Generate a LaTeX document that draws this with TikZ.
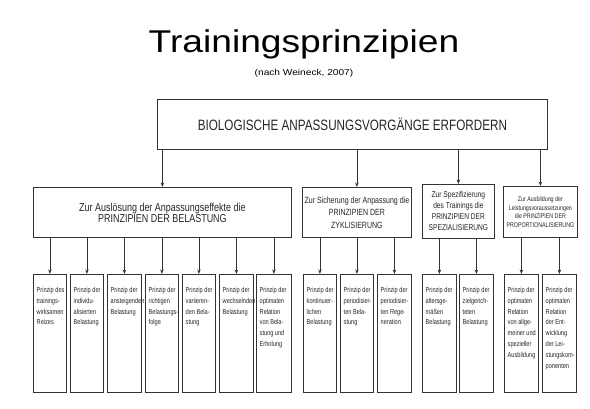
\documentclass[tikz,border=0pt]{standalone}
\usepackage{fontspec}
\setmainfont{Liberation Sans}
\newfontfamily\titlefont[FakeStretch=1.18]{Liberation Sans}
\newfontfamily\condfont[FakeStretch=0.78]{Liberation Sans}
\usetikzlibrary{arrows.meta}
\tikzset{
  frame/.style={draw=black!80, line width=0.8pt, inner sep=0pt, anchor=north west, text=black!85, align=center},
  leafbox/.style={frame, minimum height=118pt},
  leaftext/.style={anchor=north west, inner sep=0pt, align=left, text=black!85, font=\condfont\fontsize{7.2}{10.8}\selectfont},
  arr/.style={draw=black!80, line width=0.8pt, -{Stealth[length=4.5pt,width=3.5pt]}},
}
\newcommand\leafnode[4]{% name, left, width, text
  \node[leafbox, minimum width=#3pt] (#1) at (#2,274) {};
  \node[leaftext] (#1t) at ([xshift=3.5pt,yshift=-13pt]#1.north west) {#4};
}
\begin{document}
\begin{tikzpicture}[x=1pt,y=-1pt]
\useasboundingbox[fill=white] (0,0) rectangle (590,408);

\node[anchor=base, inner sep=0pt, font=\titlefont\fontsize{31.5}{36}\selectfont] (title) at (304,52.5) {Trainingsprinzipien};
\node[anchor=base, inner sep=0pt, font=\titlefont\fontsize{8.6}{10}\selectfont] (sub) at (304,75) {(nach Weineck, 2007)};

\node[frame, minimum width=390pt, minimum height=50pt, font=\condfont\fontsize{15}{18}\selectfont] (top) at (157,99) {BIOLOGISCHE ANPASSUNGSVORGÄNGE ERFORDERN};

\node[frame, minimum width=258pt, minimum height=50pt, font=\condfont\fontsize{11.5}{11}\selectfont] (c1) at (33,187) {Zur Auslösung der Anpassungseffekte die\\PRINZIPIEN DER BELASTUNG};
\node[frame, minimum width=109pt, minimum height=50pt, font=\condfont\fontsize{9}{12.5}\selectfont] (c2) at (302,187) {Zur Sicherung der Anpassung die\\PRINZIPIEN DER\\ZYKLISIERUNG};
\node[frame, minimum width=72pt, minimum height=54pt, font=\condfont\fontsize{8.5}{11}\selectfont] (c3) at (422,184) {Zur Spezifizierung\\des Trainings die\\PRINZIPIEN DER\\SPEZIALISIERUNG};
\node[frame, minimum width=74pt, minimum height=51pt, font=\condfont\fontsize{6.8}{8.6}\selectfont] (c4) at (503,186) {Zur Ausbildung der\\Leistungsvoraussetzungen\\die PRINZIPIEN DER\\PROPORTIONALISIERUNG};

\foreach \c in {c1,c2,c3,c4} \draw[arr] (\c.north |- top.south) -- (\c.north);

\leafnode{l1}{33}{33}{Prinzip des\\trainings-\\wirksamen\\Reizes}
\leafnode{l2}{70}{33}{Prinzip der\\individu-\\alisierten\\Belastung}
\leafnode{l3}{107}{34}{Prinzip der\\ansteigenden\\Belastung}
\leafnode{l4}{145}{33}{Prinzip der\\richtigen\\Belastungs-\\folge}
\leafnode{l5}{182}{33}{Prinzip der\\variieren-\\den Bela-\\stung}
\leafnode{l6}{219}{34}{Prinzip der\\wechselnden\\Belastung}
\leafnode{l7}{256}{35}{Prinzip der\\optimalen\\Relation\\von Bela-\\stung und\\Erholung}
\leafnode{l8}{303}{33}{Prinzip der\\kontinuier-\\lichen\\Belastung}
\leafnode{l9}{340}{33}{Prinzip der\\periodisier-\\ten Bela-\\stung}
\leafnode{l10}{377}{34}{Prinzip der\\periodisier-\\ten Rege-\\neration}
\leafnode{l11}{422}{34}{Prinzip der\\altersge-\\mäßen\\Belastung}
\leafnode{l12}{459}{34}{Prinzip der\\zielgerich-\\teten\\Belastung}
\leafnode{l13}{504}{34}{Prinzip der\\optimalen\\Relation\\von allge-\\meiner und\\spezieller\\Ausbildung}
\leafnode{l14}{542}{34}{Prinzip der\\optimalen\\Relation\\der Ent-\\wicklung\\der Lei-\\stungskom-\\ponenten}

\foreach \l in {l1,l2,l3,l4,l5,l6,l7} \draw[arr] (\l.north |- c1.south) -- (\l.north);
\foreach \l in {l8,l9,l10} \draw[arr] (\l.north |- c2.south) -- (\l.north);
\foreach \l in {l11,l12} \draw[arr] (\l.north |- c3.south) -- (\l.north);
\foreach \l in {l13,l14} \draw[arr] (\l.north |- c4.south) -- (\l.north);
\end{tikzpicture}
\end{document}
